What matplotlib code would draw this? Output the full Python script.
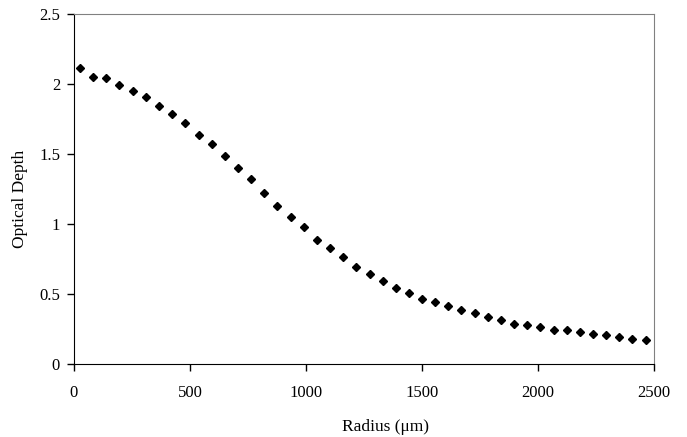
import matplotlib
matplotlib.use("Agg")
import matplotlib.pyplot as plt

# radius in micrometres
radius = [26, 83, 140, 196, 253, 310, 367, 423, 480, 537, 593, 650, 707, 763,
          820, 877, 934, 990, 1047, 1104, 1160, 1217, 1274, 1330, 1387, 1444,
          1500, 1557, 1614, 1670, 1727, 1784, 1840, 1897, 1954, 2010, 2067,
          2124, 2180, 2237, 2294, 2350, 2407, 2464]
depth = [2.114, 2.054, 2.047, 1.995, 1.954, 1.911, 1.845, 1.786, 1.726, 1.636,
         1.576, 1.486, 1.402, 1.324, 1.224, 1.129, 1.055, 0.981, 0.888, 0.829,
         0.769, 0.693, 0.645, 0.593, 0.543, 0.512, 0.466, 0.443, 0.416, 0.386,
         0.366, 0.340, 0.316, 0.290, 0.283, 0.264, 0.245, 0.245, 0.231, 0.216,
         0.207, 0.197, 0.183, 0.174]

plt.rcParams['font.family'] = ['Liberation Serif', 'DejaVu Serif']
plt.rcParams['font.size'] = 12

fig = plt.figure(figsize=(6.87, 4.37), dpi=100)
ax = fig.add_axes([0.1077, 0.1664, 0.8443, 0.8009])

ax.plot(radius, depth, linestyle='none', marker='D', markersize=4.5,
        color='black')

ax.set_xlim(0, 2500)
ax.set_ylim(0, 2.5)
ax.set_xticks([0, 500, 1000, 1500, 2000, 2500])
ax.set_yticks([0, 0.5, 1, 1.5, 2, 2.5])
ax.set_yticklabels(['0', '0.5', '1', '1.5', '2', '2.5'])

ax.tick_params(axis='x', direction='out', length=5, pad=10, width=1)
ax.tick_params(axis='y', direction='out', length=5, pad=5, width=1)

for side in ['top', 'right']:
    ax.spines[side].set_color('#808080')
for side in ['left', 'bottom']:
    ax.spines[side].set_color('black')

fig.text(20 / 687, 1 - 199 / 437, 'Optical Depth', ha='center', va='center',
         rotation=90, fontsize=12.5)
fig.text(385 / 687, 1 - 427 / 437, 'Radius (\u03bcm)', ha='center', va='center',
         fontsize=12.5)

fig.savefig('out.png', dpi=100)
